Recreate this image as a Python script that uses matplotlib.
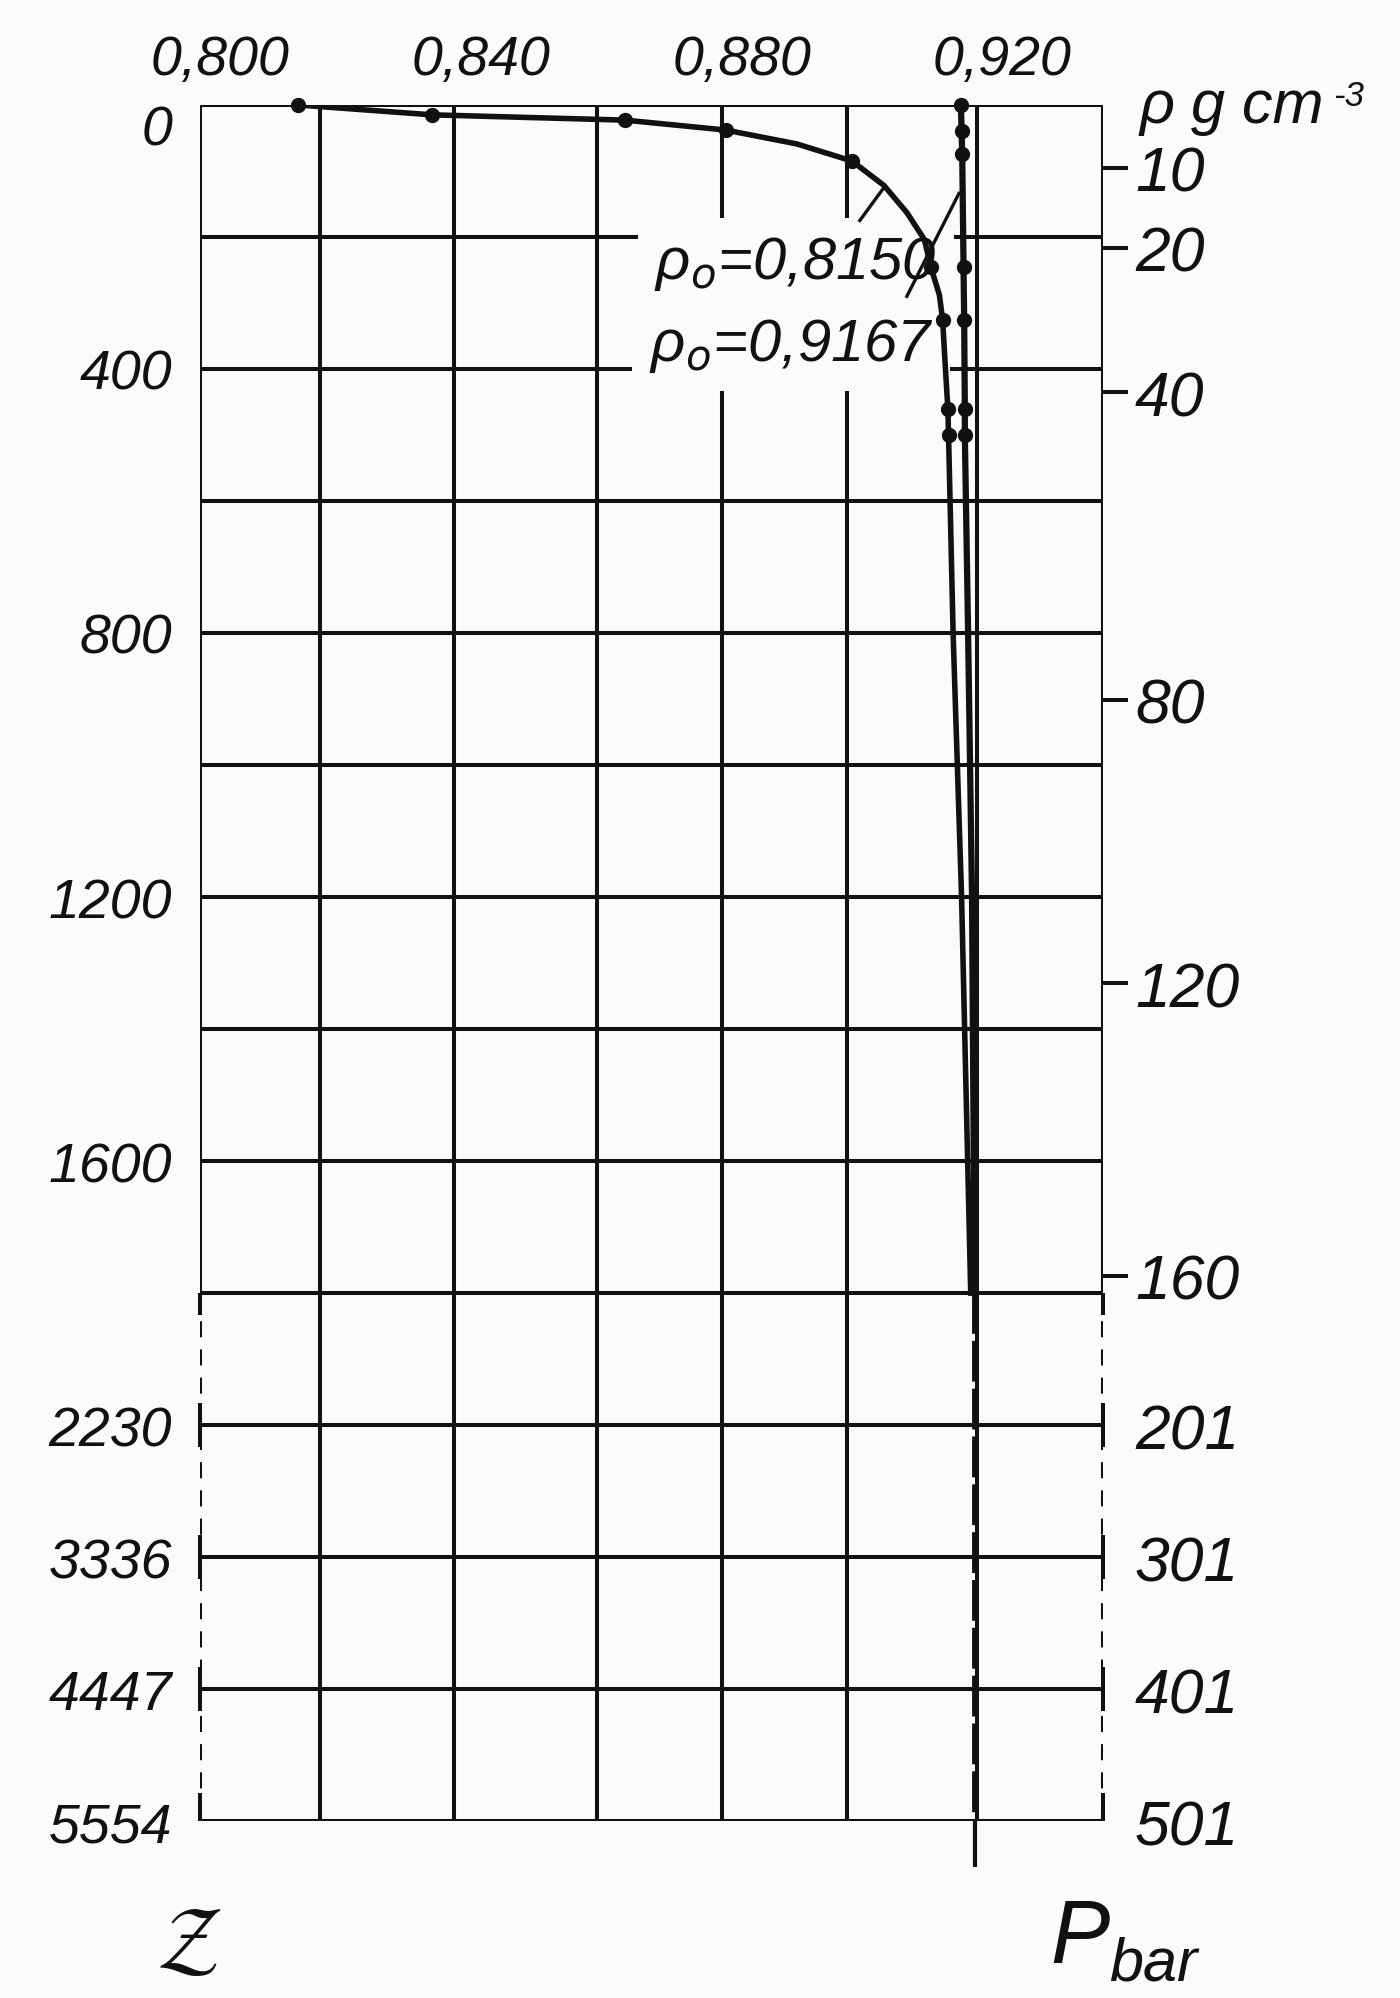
import numpy as np
import matplotlib
matplotlib.use("Agg")
import matplotlib.pyplot as plt
from matplotlib.transforms import ScaledTranslation

# depth z (m) against density rho (g cm^-3)
# surface density 0.8150 : measured dots
z_dots_a = [0, 15, 23, 38, 85, 246, 326, 461, 500]
rho_dots_a = [0.8150, 0.8356, 0.8652, 0.8806, 0.9000, 0.9121, 0.9139, 0.9147, 0.9148]
# the drawn curve through them and below them
z_line_a = [0, 15, 23, 38, 59, 85, 122, 163, 204, 246, 288, 326, 379, 461, 500, 800, 1200, 1800]
rho_line_a = [0.8150, 0.8356, 0.8652, 0.8806, 0.8915, 0.9000, 0.9049, 0.9084, 0.9111, 0.9121,
              0.9134, 0.9139, 0.9142, 0.9147, 0.9148, 0.9155, 0.9168, 0.9182]

# surface density 0.9167
z_dots_b = [0, 39, 75, 246, 326, 461, 500]
rho_dots_b = [0.9167, 0.9168, 0.9169, 0.9171, 0.9172, 0.9173, 0.9173]
z_line_b = [0, 39, 75, 246, 326, 461, 500, 800, 1200, 1800]
rho_line_b = [0.9167, 0.9168, 0.9169, 0.9171, 0.9172, 0.9173, 0.9173, 0.9178, 0.9184, 0.9188]

# below 1800 m only one (broken) line
z_deep = [1800, 5554]
rho_deep = [0.9188, 0.9188]

# leader lines of the two labels
lead1_rho = [0.9012, 0.9049]
lead1_z = [175, 125]
lead2_rho = [0.9084, 0.9164]
lead2_z = [290, 134]

# grid of the drawing
grid_rho = [0.8184, 0.8390, 0.8609, 0.8801, 0.8993, 0.9191]
grid_z = [200, 400, 600, 800, 1000, 1200, 1400, 1600, 1800, 2230, 3336, 4447]
lower_z = [2230, 3336, 4447]
rho_min, rho_max = 0.800, 0.9385
z_top, z_bot, z_break_at = 0, 5554, 1800

# axes labels
top_ticks = [0.800, 0.840, 0.880, 0.920]
top_labels = ['0,800', '0,840', '0,880', '0,920']
z_ticks = [0, 400, 800, 1200, 1600, 2230, 3336, 4447, 5554]
z_labels = ['0', '400', '800', '1200', '1600', '2230', '3336', '4447', '5554']
p_depths = [95, 216, 435, 901, 1331, 1774, 2230, 3336, 4447, 5554]
p_labels = ['10', '20', '40', '80', '120', '160', '201', '301', '401', '501']

# piecewise depth scale: linear to 1800 m, then one grid step per label
z_knots = [-1e4, 0, 1800, 2230, 3336, 4447, 5554, 1e5]
pos_knots = [-1e4, 0, 1800, 2000, 2200, 2400, 2600, 2600 + (1e5 - 5554) * 200 / 1107]


def fwd(z):
    return np.interp(z, z_knots, pos_knots)


def inv(p):
    return np.interp(p, pos_knots, z_knots)


ink = '#111111'
bg = '#fbfbf9'
font = ['Liberation Sans', 'DejaVu Sans']
lw_grid = 2.9

fig = plt.figure(figsize=(14, 19.99), dpi=100, facecolor=bg)
ax = fig.add_axes([0.1429, 0.0885, 0.6450, 0.8585])
ax.set_facecolor(bg)
ax.set_yscale('function', functions=(fwd, inv))
ax.set_xlim(rho_min, rho_max)
ax.set_ylim(z_bot, z_top)
for s in ax.spines.values():
    s.set_visible(False)

# frame
ax.hlines([z_top, z_bot], rho_min, rho_max, color=ink, lw=lw_grid, zorder=2)
ax.vlines([rho_min, rho_max], z_top, z_break_at, color=ink, lw=lw_grid, zorder=2)
ax.vlines([rho_min, rho_max], z_break_at, z_bot, color=ink, lw=lw_grid,
          linestyles=(0, (4, 3)), zorder=2)
ax.plot([rho_min] * 3 + [rho_max] * 3, lower_z * 2, ls='none', marker='|',
        ms=32, mew=lw_grid, color=ink, clip_on=False, zorder=2)
ax.plot([rho_min, rho_max], [z_bot, z_bot], ls='none', marker=2, ms=20,
        mew=lw_grid, color=ink, clip_on=False, zorder=2)
ax.plot([rho_min, rho_max], [z_break_at, z_break_at], ls='none', marker=3, ms=16,
        mew=lw_grid, color=ink, clip_on=False, zorder=2)

# grid
ax.vlines(grid_rho, z_top, z_bot, color=ink, lw=lw_grid, zorder=1)
ax.hlines(grid_z, rho_min, rho_max, color=ink, lw=lw_grid, zorder=1)

# curves
ax.plot(rho_line_a, z_line_a, color=ink, lw=4.0, zorder=6)
ax.plot(rho_dots_a, z_dots_a, ls='none', marker='o', ms=10, color=ink, zorder=7, clip_on=False)
ax.plot(rho_line_b, z_line_b, color=ink, lw=4.5, zorder=6)
ax.plot(rho_dots_b, z_dots_b, ls='none', marker='o', ms=10, color=ink, zorder=7, clip_on=False)
ax.plot(rho_deep, z_deep, color=ink, lw=4.2, ls=(0, (7, 1.2)), zorder=6)
ax.plot(rho_deep[-1:], z_deep[-1:], ls='none', marker=3, ms=33, mew=3.0,
        color=ink, clip_on=False, zorder=6)
ax.plot(lead1_rho, lead1_z, color=ink, lw=2.4, zorder=6)
ax.plot(lead2_rho, lead2_z, color=ink, lw=2.4, zorder=6)

box = dict(boxstyle='square,pad=0.28', fc=bg, ec='none')
ax.text(0.8697, 240, 'ρ$_o$=0,8150', fontsize=43, family=font, style='italic',
        color=ink, va='center', ha='left', bbox=box, zorder=4)
ax.text(0.8688, 364, 'ρ$_o$=0,9167', fontsize=43, family=font, style='italic',
        color=ink, va='center', ha='left', bbox=box, zorder=4)

# top density axis
ax.xaxis.tick_top()
ax.set_xticks(top_ticks, top_labels)
ax.tick_params(axis='x', length=0, pad=14, labelsize=40, labelcolor=ink)
for lbl in ax.get_xticklabels():
    lbl.set_family(font)
    lbl.set_style('italic')
    lbl.set_transform(lbl.get_transform() + ScaledTranslation(0.2, 0, fig.dpi_scale_trans))

# left depth axis
ax.set_yticks(z_ticks, z_labels)
ax.tick_params(axis='y', length=0, pad=20, labelsize=40, labelcolor=ink)
for lbl in ax.get_yticklabels():
    lbl.set_family(font)
    lbl.set_style('italic')
ax.get_yticklabels()[0].set_va('top')

# right pressure axis
ax2 = ax.twinx()
ax2.set_yscale('function', functions=(fwd, inv))
ax2.set_ylim(z_bot, z_top)
for s in ax2.spines.values():
    s.set_visible(False)
ax2.set_yticks(p_depths, p_labels)
ax2.tick_params(axis='y', length=18, width=lw_grid, color=ink, pad=5,
                labelsize=45, labelcolor=ink)
for lbl in ax2.get_yticklabels():
    lbl.set_family(font)
    lbl.set_style('italic')
for t in ax2.yaxis.get_major_ticks()[6:]:
    t.tick2line.set_visible(False)

# unit and axis names
fig.text(0.814, 0.9385, 'ρ g cm', fontsize=44, family=font, style='italic', color=ink)
fig.text(0.952, 0.947, '-3', fontsize=25, family=font, style='italic', color=ink)
fig.text(0.135, 0.028, r'$\mathcal{Z}$', fontsize=64, math_fontfamily='stix',
         color=ink, ha='center', va='center')
fig.text(0.750, 0.018, 'P', fontsize=64, family=font, style='italic', color=ink)
fig.text(0.792, 0.003, 'bar', fontsize=44, family=font, style='italic', color=ink,
         va='bottom')

fig.savefig('out.png', dpi=100, facecolor=bg)
